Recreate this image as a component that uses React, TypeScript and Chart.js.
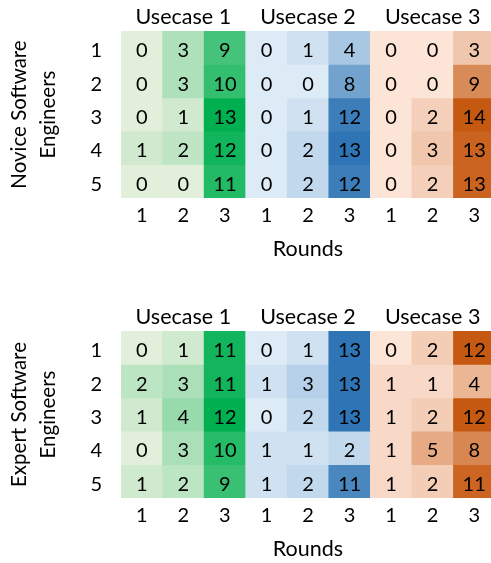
import React, { useEffect, useRef } from "react";
import { Chart, registerables } from "chart.js";

Chart.register(...registerables);

const usecases = ["Usecase 1", "Usecase 2", "Usecase 3"];
const rounds = ["1", "2", "3"];
const engineerRows = ["1", "2", "3", "4", "5"];
const xTitle = "Rounds";
const noviceTitle = ["Novice Software", "Engineers"];
const expertTitle = ["Expert Software", "Engineers"];

// each block: rows (engineers 1..5) x rounds (1..3)
const noviceUsecase1 = [[0, 3, 9], [0, 3, 10], [0, 1, 13], [1, 2, 12], [0, 0, 11]];
const noviceUsecase2 = [[0, 1, 4], [0, 0, 8], [0, 1, 12], [0, 2, 13], [0, 2, 12]];
const noviceUsecase3 = [[0, 0, 3], [0, 0, 9], [0, 2, 14], [0, 3, 13], [0, 2, 13]];
const expertUsecase1 = [[0, 1, 11], [2, 3, 11], [1, 4, 12], [0, 3, 10], [1, 2, 9]];
const expertUsecase2 = [[0, 1, 13], [1, 3, 13], [0, 2, 13], [1, 1, 2], [1, 2, 11]];
const expertUsecase3 = [[0, 2, 12], [1, 1, 4], [1, 2, 12], [1, 5, 8], [1, 2, 11]];

const lowColors = [[226, 239, 218], [221, 235, 247], [252, 228, 214]];
const highColors = [[0, 176, 80], [47, 117, 181], [198, 89, 17]];

const FONT = "Lato";

const valueLabels = {
  id: "valueLabels",
  afterDatasetsDraw(chart: any) {
    const ctx = chart.ctx;
    ctx.save();
    ctx.font = `20px ${FONT}`;
    ctx.fillStyle = "#000";
    ctx.textAlign = "center";
    ctx.textBaseline = "middle";
    chart.data.datasets.forEach((ds: any, di: number) => {
      const meta = chart.getDatasetMeta(di);
      meta.data.forEach((el: any, i: number) => {
        const { x, y, base } = el.getProps(["x", "y", "base"], true);
        ctx.fillText(String(ds.values[i]), x, (y + base) / 2 + 3);
      });
    });
    ctx.restore();
  },
};

function HeatPanel({ title, blocks, top }: { title: string[]; blocks: number[][][]; top: number }) {
  const ref = useRef<HTMLCanvasElement>(null);
  useEffect(() => {
    if (!ref.current) return;
    const labels = usecases.flatMap(() => rounds);
    const ranges = blocks.map((b) => {
      const all = b.flat();
      return [Math.min(...all), Math.max(...all)];
    });
    const colorFor = (u: number, v: number) => {
      const [mn, mx] = ranges[u];
      const t = mx === mn ? 0 : (v - mn) / (mx - mn);
      const lo = lowColors[u];
      const hi = highColors[u];
      const c = lo.map((l, k) => Math.round(l + (hi[k] - l) * t));
      return `rgb(${c[0]},${c[1]},${c[2]})`;
    };
    const datasets = engineerRows.map((row, r) => {
      const values = blocks.flatMap((b) => b[r]);
      const rv = Number(row);
      return {
        label: row,
        data: values.map(() => [rv - 0.5, rv + 0.5]),
        values,
        backgroundColor: values.map((v, i) => colorFor(Math.floor(i / 3), v)),
        grouped: false,
        barPercentage: 1,
        categoryPercentage: 1,
        borderWidth: 0,
        borderSkipped: false,
      } as any;
    });
    const tickFont = { family: FONT, size: 20, lineHeight: 1.2 };
    const wordFont = { family: FONT, size: 21.5, lineHeight: 1.2 };
    const chart = new Chart(ref.current, {
      type: "bar",
      data: { labels, datasets },
      plugins: [valueLabels],
      options: {
        responsive: false,
        animation: false,
        plugins: { legend: { display: false }, tooltip: { enabled: false } },
        layout: { padding: 0 },
        scales: {
          x: {
            type: "category",
            labels,
            position: "bottom",
            offset: true,
            grid: { display: false, drawTicks: false },
            border: { display: false },
            ticks: { font: tickFont, color: "#000", padding: 6, maxRotation: 0, autoSkip: false },
            title: {
              display: true,
              text: xTitle,
              font: wordFont,
              color: "#000",
              padding: { top: 0, bottom: 1 },
            },
            afterFit(s: any) {
              s.height = 65;
            },
          },
          x2: {
            type: "category",
            labels: usecases,
            position: "top",
            offset: true,
            grid: { display: false, drawTicks: false },
            border: { display: false },
            ticks: { font: wordFont, color: "#000", padding: 1, maxRotation: 0, autoSkip: false },
            afterFit(s: any) {
              s.height = 31;
            },
          },
          y: {
            type: "linear",
            reverse: true,
            min: 0.5,
            max: 5.5,
            grid: { display: false, drawTicks: false },
            border: { display: false },
            afterBuildTicks(s: any) {
              s.ticks = engineerRows.map((r) => ({ value: Number(r) }));
            },
            ticks: { font: tickFont, color: "#000", padding: 19, labelOffset: 3 },
            title: {
              display: true,
              text: title,
              font: { family: FONT, size: 20.5, lineHeight: 1.42 },
              color: "#000",
              padding: { top: 5, bottom: 0 },
            },
            afterFit(s: any) {
              s.width = 121;
            },
          },
        },
      } as any,
    });
    return () => chart.destroy();
  }, [title, blocks]);
  return (
    <canvas
      ref={ref}
      width={495}
      height={263}
      style={{ position: "absolute", left: 0, top, width: 495, height: 263 }}
    />
  );
}

const noviceBlocks = [noviceUsecase1, noviceUsecase2, noviceUsecase3];
const expertBlocks = [expertUsecase1, expertUsecase2, expertUsecase3];

export default function App() {
  return (
    <div
      style={{
        position: "fixed",
        left: 0,
        top: 0,
        width: 491,
        height: 563,
        overflow: "hidden",
        background: "#fff",
      }}
    >
      <HeatPanel title={noviceTitle} blocks={noviceBlocks} top={0} />
      <HeatPanel title={expertTitle} blocks={expertBlocks} top={300} />
    </div>
  );
}
